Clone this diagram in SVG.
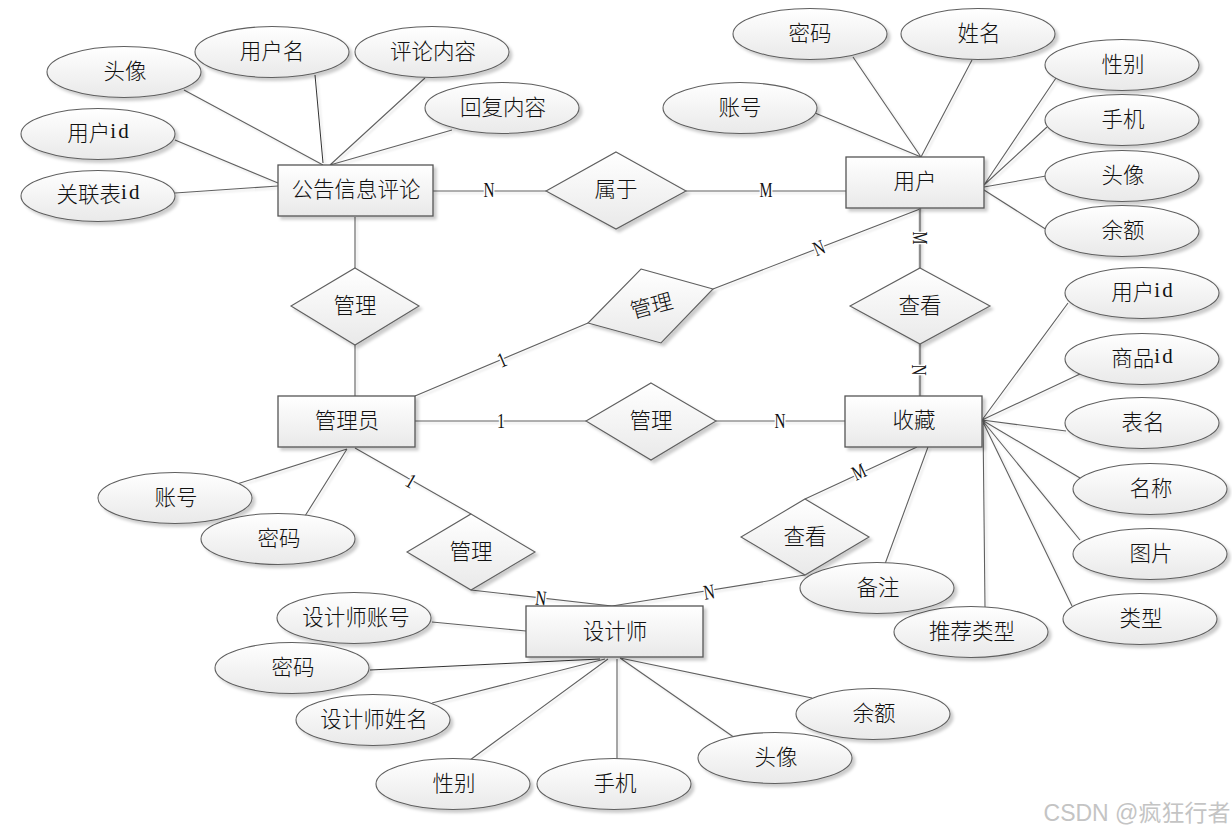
<svg xmlns="http://www.w3.org/2000/svg" width="1232" height="834" viewBox="0 0 1232 834">
<defs>
<linearGradient id="g" x1="0" y1="0" x2="0" y2="1"><stop offset="0" stop-color="#ffffff"/><stop offset="1" stop-color="#e9e9e9"/></linearGradient>
<filter id="s" x="-10%" y="-15%" width="125%" height="135%"><feDropShadow dx="3" dy="3" stdDeviation="1.5" flood-color="#000" flood-opacity=".2"/></filter>
<filter id="ls" x="-5%" y="-5%" width="110%" height="110%"><feDropShadow dx="2" dy="2" stdDeviation="1.2" flood-color="#000" flood-opacity=".13"/></filter>
</defs>
<style>
.n{fill:url(#g);stroke:#5f5f5f;stroke-width:1.1;filter:url(#s)}
.r{fill:url(#g);stroke:#555;stroke-width:1.3;filter:url(#s)}
.c{stroke:#606060;stroke-width:1.1;fill:none}
.d{stroke:#333;stroke-width:1;fill:none}
.t{stroke:#8c8c8c;stroke-width:2.4;fill:none}
text{font-family:"Noto Sans CJK SC","Liberation Sans",sans-serif;font-size:21.5px;font-weight:300;fill:#111;text-anchor:middle;dominant-baseline:central}
.i{font-family:"Liberation Serif",serif;font-size:21px;font-weight:400;letter-spacing:2px}
.l{font-family:"Liberation Serif",serif;font-size:21px;font-weight:400;stroke:#fff;stroke-width:4px;paint-order:stroke;fill:#111}
.w{font-family:"Liberation Sans","Noto Sans CJK SC",sans-serif;font-size:23px;font-weight:400;fill:#c4c4c4}
</style>
<rect width="1232" height="834" fill="#fff"/>
<g id="connectors">
<g filter="url(#ls)">
<path class="c" d="M184 90L323 165M425 78L330 165M452 130L330 165M175 140L278 183M175 193L278 186M433 191H546M686 191H846M355 217V268M355 345V396M415 396L588 323M713 289L920 209M415 421H586M716 421H845M355 448L471 514M471 590L612 606L805 575M805 499L917 447M982 420L1068 303M982 420L1080 374M982 420L1066 431M982 420L1080 478M982 420L1080 540M982 420L1072 606M983 421L985 607M928 447L885 564M984 185L1056 78M984 185L1047 127M984 187L1046 176M984 190L1047 230M853 57L921 157M972 60L921 157M815 113L921 157M237 484L347 449M305 516L347 449M432 622L526 631M432 703L605 659M470 760L608 659M617 659V759M620 658L735 738M620 658L812 698"/>
<path class="d" d="M315 75L323 163M370 670L600 659"/>
<path class="t" d="M920 208V268M920 344V396"/>
</g>
<text class="l" x="489" y="190" textLength="11" lengthAdjust="spacingAndGlyphs">N</text>
<text class="l" x="766" y="190" textLength="13" lengthAdjust="spacingAndGlyphs">M</text>
<text class="l" transform="translate(502 360) rotate(-23)" textLength="8" lengthAdjust="spacingAndGlyphs">1</text>
<text class="l" transform="translate(819 248) rotate(-22)" textLength="11" lengthAdjust="spacingAndGlyphs">N</text>
<text class="l" transform="translate(920 238) rotate(90)" textLength="13" lengthAdjust="spacingAndGlyphs">M</text>
<text class="l" transform="translate(919 370) rotate(90)" textLength="11" lengthAdjust="spacingAndGlyphs">N</text>
<text class="l" x="501" y="421" textLength="8" lengthAdjust="spacingAndGlyphs">1</text>
<text class="l" x="780" y="421" textLength="11" lengthAdjust="spacingAndGlyphs">N</text>
<text class="l" transform="translate(411 481) rotate(30)" textLength="8" lengthAdjust="spacingAndGlyphs">1</text>
<text class="l" transform="translate(541 598) rotate(6)" textLength="11" lengthAdjust="spacingAndGlyphs">N</text>
<text class="l" transform="translate(709 592) rotate(-9)" textLength="11" lengthAdjust="spacingAndGlyphs">N</text>
<text class="l" transform="translate(859 472) rotate(-25)" textLength="13" lengthAdjust="spacingAndGlyphs">M</text>
</g>
<g id="n-comment"><rect class="r" x="278" y="165" width="155" height="51"/><text x="356" y="187">公告信息评论</text></g>
<g id="n-user"><rect class="r" x="846" y="157" width="138" height="51"/><text x="915" y="179">用户</text></g>
<g id="n-admin"><rect class="r" x="278" y="396" width="137" height="51"/><text x="347" y="418">管理员</text></g>
<g id="n-fav"><rect class="r" x="845" y="396" width="137" height="51"/><text x="914" y="418">收藏</text></g>
<g id="n-designer"><rect class="r" x="526" y="606" width="177" height="51"/><text x="615" y="629">设计师</text></g>
<g id="r-belong"><path class="n" d="M616 152L686 191L616 229L546 191Z"/><text x="616" y="187">属于</text></g>
<g id="r-manage1"><path class="n" d="M355 268L419 306L355 345L291 306Z"/><text x="355" y="303">管理</text></g>
<g id="r-view1"><path class="n" d="M920 268L990 306L920 344L850 306Z"/><text x="920" y="303">查看</text></g>
<g id="r-manage2"><path class="n" d="M641 269L713 289L661 343L588 323Z"/><text transform="translate(651 304) rotate(-15)">管理</text></g>
<g id="r-manage3"><path class="n" d="M651 383L716 421L651 460L586 421Z"/><text x="651" y="418">管理</text></g>
<g id="r-manage4"><path class="n" d="M471 514L535 552L471 590L407 552Z"/><text x="471" y="549">管理</text></g>
<g id="r-view2"><path class="n" d="M805 499L869 537L805 575L741 537Z"/><text x="805" y="534">查看</text></g>
<g id="a1"><ellipse class="n" cx="124" cy="72" rx="77" ry="25.5"/><text x="125" y="69">头像</text></g>
<g id="a2"><ellipse class="n" cx="272" cy="52" rx="77" ry="25.5"/><text x="272" y="49">用户名</text></g>
<g id="a3"><ellipse class="n" cx="432" cy="52" rx="77" ry="25.5"/><text x="433" y="49">评论内容</text></g>
<g id="a4"><ellipse class="n" cx="502" cy="108" rx="77" ry="25.5"/><text x="503" y="105">回复内容</text></g>
<g id="a5"><ellipse class="n" cx="98" cy="134" rx="77" ry="25.5"/><text x="99" y="131">用户<tspan class="i">id</tspan></text></g>
<g id="a6"><ellipse class="n" cx="98" cy="196" rx="77" ry="25.5"/><text x="99" y="192">关联表<tspan class="i">id</tspan></text></g>
<g id="a7"><ellipse class="n" cx="810" cy="34" rx="77" ry="25.5"/><text x="810" y="31">密码</text></g>
<g id="a8"><ellipse class="n" cx="978" cy="34" rx="77" ry="25.5"/><text x="979" y="31">姓名</text></g>
<g id="a9"><ellipse class="n" cx="1122" cy="65" rx="77" ry="25.5"/><text x="1123" y="62">性别</text></g>
<g id="a10"><ellipse class="n" cx="1122" cy="120" rx="77" ry="25.5"/><text x="1123" y="117">手机</text></g>
<g id="a11"><ellipse class="n" cx="1122" cy="176" rx="77" ry="25.5"/><text x="1123" y="173">头像</text></g>
<g id="a12"><ellipse class="n" cx="1122" cy="231" rx="77" ry="25.5"/><text x="1123" y="228">余额</text></g>
<g id="a13"><ellipse class="n" cx="740" cy="108" rx="77" ry="25.5"/><text x="740" y="105">账号</text></g>
<g id="a14"><ellipse class="n" cx="1142" cy="293" rx="77" ry="25.5"/><text x="1143" y="290">用户<tspan class="i">id</tspan></text></g>
<g id="a15"><ellipse class="n" cx="1142" cy="359" rx="77" ry="25.5"/><text x="1143" y="356">商品<tspan class="i">id</tspan></text></g>
<g id="a16"><ellipse class="n" cx="1142" cy="423" rx="77" ry="25.5"/><text x="1143" y="420">表名</text></g>
<g id="a17"><ellipse class="n" cx="1150" cy="489" rx="77" ry="25.5"/><text x="1151" y="486">名称</text></g>
<g id="a18"><ellipse class="n" cx="1150" cy="554" rx="77" ry="25.5"/><text x="1151" y="551">图片</text></g>
<g id="a19"><ellipse class="n" cx="1140" cy="619" rx="77" ry="25.5"/><text x="1141" y="616">类型</text></g>
<g id="a20"><ellipse class="n" cx="971" cy="632" rx="77" ry="25.5"/><text x="972" y="629">推荐类型</text></g>
<g id="a21"><ellipse class="n" cx="877" cy="588" rx="77" ry="25.5"/><text x="878" y="585">备注</text></g>
<g id="a22"><ellipse class="n" cx="175" cy="498" rx="77" ry="25.5"/><text x="176" y="495">账号</text></g>
<g id="a23"><ellipse class="n" cx="278" cy="539" rx="77" ry="25.5"/><text x="279" y="536">密码</text></g>
<g id="a24"><ellipse class="n" cx="354" cy="618" rx="77" ry="25.5"/><text x="356" y="615">设计师账号</text></g>
<g id="a25"><ellipse class="n" cx="292" cy="668" rx="77" ry="25.5"/><text x="293" y="665">密码</text></g>
<g id="a26"><ellipse class="n" cx="373" cy="720" rx="77" ry="25.5"/><text x="374" y="717">设计师姓名</text></g>
<g id="a27"><ellipse class="n" cx="453" cy="784" rx="77" ry="25.5"/><text x="454" y="781">性别</text></g>
<g id="a28"><ellipse class="n" cx="614" cy="784" rx="77" ry="25.5"/><text x="615" y="781">手机</text></g>
<g id="a29"><ellipse class="n" cx="775" cy="758" rx="77" ry="25.5"/><text x="776" y="755">头像</text></g>
<g id="a30"><ellipse class="n" cx="873" cy="714" rx="77" ry="25.5"/><text x="874" y="711">余额</text></g>
<text class="w" x="1137" y="813">CSDN @疯狂行者</text>
</svg>
